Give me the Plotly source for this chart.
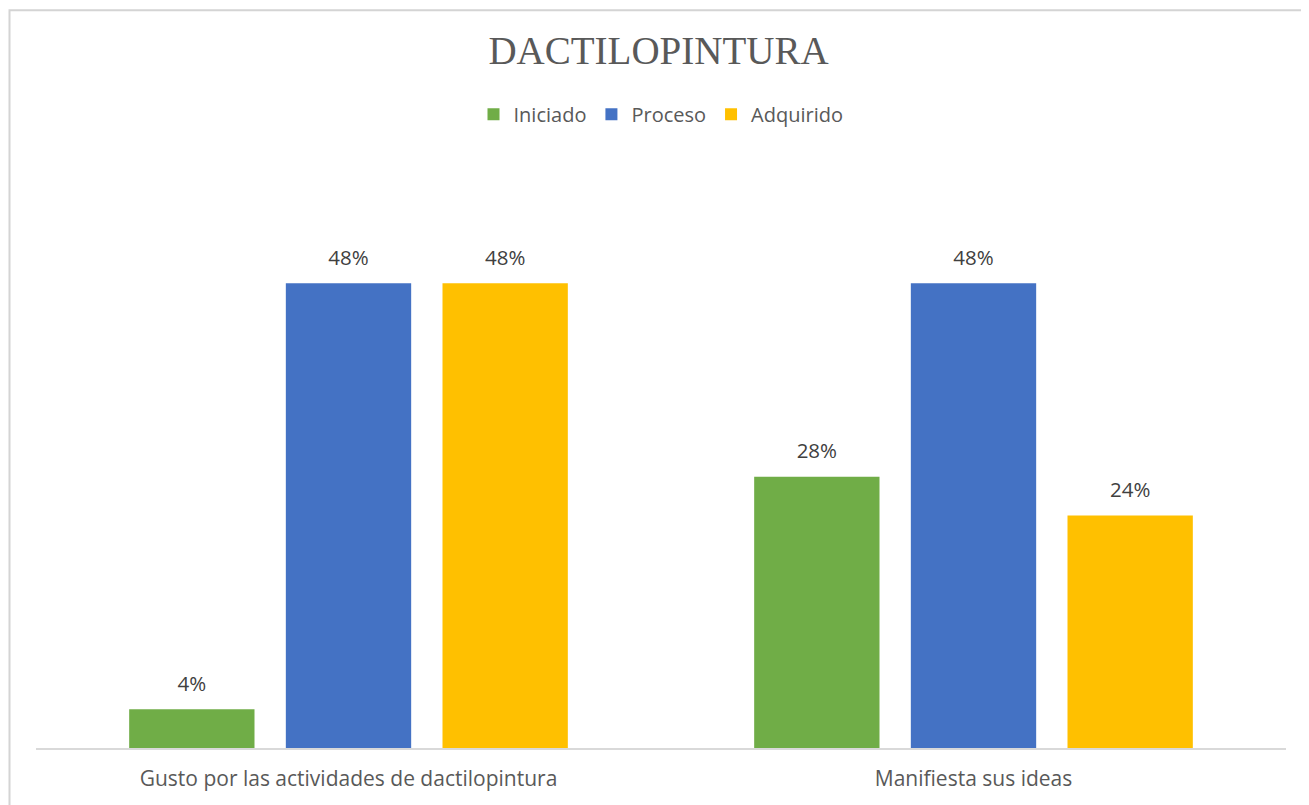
import plotly.graph_objects as go

# Chart data
categories = ["Gusto por las actividades de dactilopintura", "Manifiesta sus ideas"]
series_names = ["Iniciado", "Proceso", "Adquirido"]
iniciado = [4, 28]
proceso = [48, 48]
adquirido = [48, 24]
colors = ["#70AD47", "#4472C4", "#FFC000"]

FONT = "Open Sans"

fig = go.Figure()
for name, vals, col in zip(series_names, [iniciado, proceso, adquirido], colors):
    fig.add_trace(go.Bar(
        x=categories, y=vals, name=name,
        marker=dict(color=col, line=dict(width=0)),
        hoverinfo="x+y+name",
    ))

# data labels as grouped text traces, lifted a bit above the bars
for name, vals in zip(series_names, [iniciado, proceso, adquirido]):
    fig.add_trace(go.Scatter(
        x=categories, y=vals, mode="markers+text", orientation="v",
        text=[f"{v}%" for v in vals], textposition="top center",
        textfont=dict(family=FONT, size=20.5, color="#404040"),
        marker=dict(size=20, color="rgba(0,0,0,0)"),
        showlegend=False, hoverinfo="skip", cliponaxis=False,
    ))

# page body adds 8px on the left/top
fig.update_layout(
    width=1301, height=797,
    barmode="group", bargap=0.248, bargroupgap=0.2,
    scattermode="group", scattergap=0.248,
    margin=dict(l=28, r=23, t=159, b=57),
    paper_bgcolor="white", plot_bgcolor="white",
    title=dict(text="DACTILOPINTURA", x=0.5, xanchor="center",
               y=1 - 42 / 797, yanchor="middle",
               font=dict(family="Liberation Serif", size=39, color="#595959")),
    legend=dict(orientation="h", x=0.5, xanchor="center", y=1.091, yanchor="middle",
                font=dict(family=FONT, size=20, color="#595959"),
                traceorder="normal"),
    xaxis=dict(showline=True, linecolor="#D9D9D9", linewidth=1.5, ticks="",
               ticklabelstandoff=11,
               tickfont=dict(family=FONT, size=21, color="#595959")),
    yaxis=dict(range=[0, 60], visible=False),
    shapes=[dict(type="rect", xref="paper", yref="paper",
                 x0=-0.0212, x1=1.1, y0=-0.2, y1=1.270,
                 line=dict(color="#D4D4D4", width=2))],
)

fig.write_html("out.html")
